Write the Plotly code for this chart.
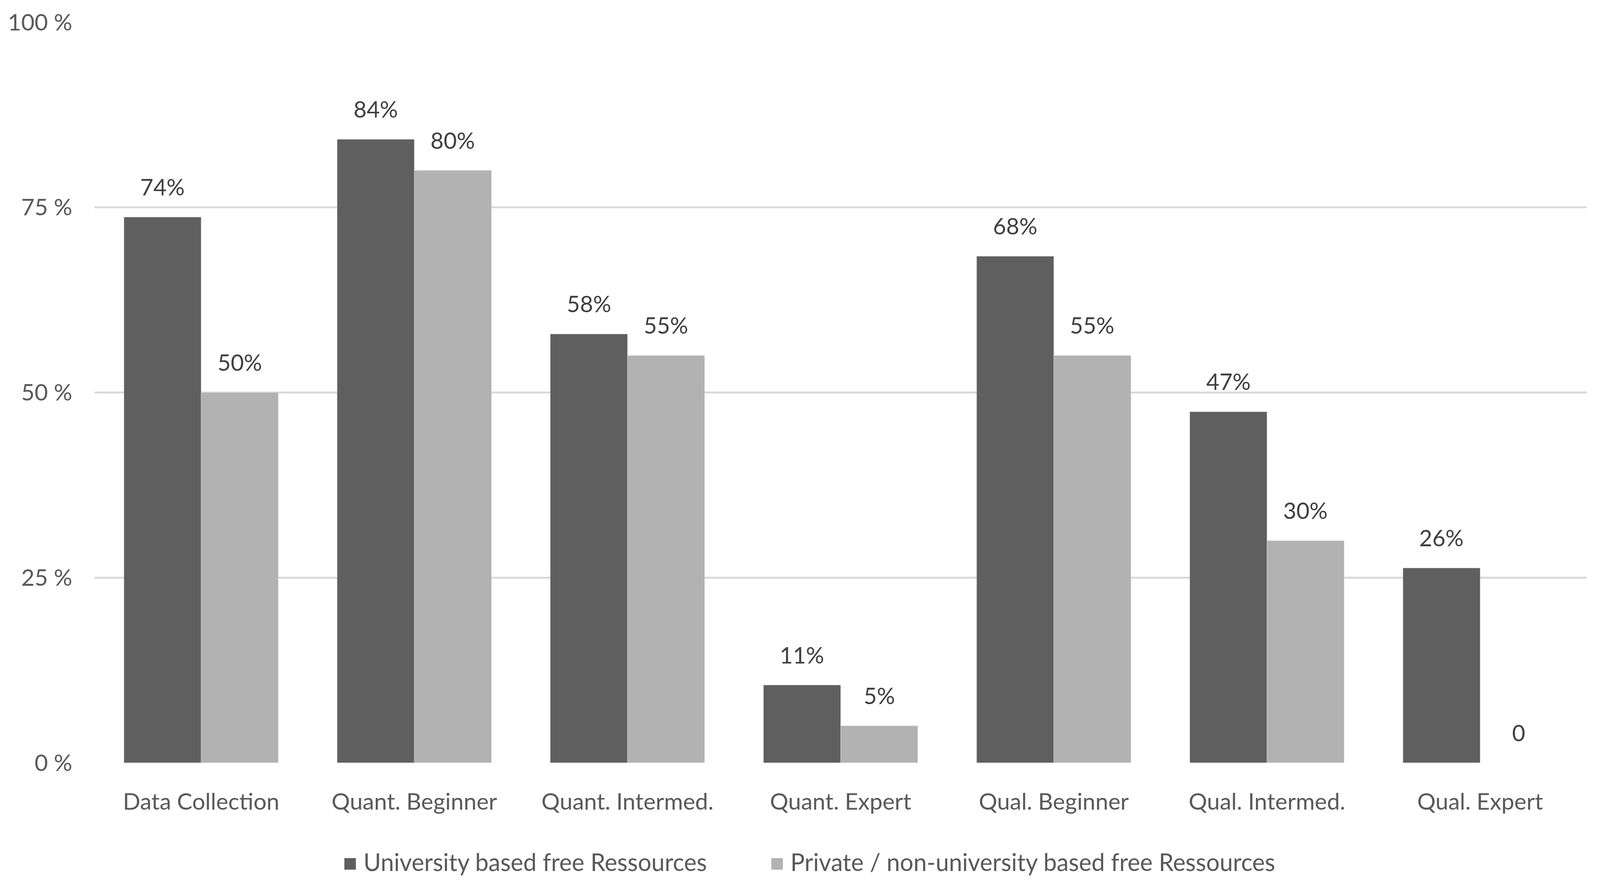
import plotly.graph_objects as go

# categories and the two resource series (shares in %)
categories = ["Data Collection", "Quant. Beginner", "Quant. Intermed.", "Quant. Expert",
              "Qual. Beginner", "Qual. Intermed.", "Qual. Expert"]
university = [73.7, 84.2, 57.9, 10.5, 68.4, 47.4, 26.3]
private = [50.0, 80.0, 55.0, 5.0, 55.0, 30.0, 0.0]
university_labels = ["74%", "84%", "58%", "11%", "68%", "47%", "26%"]
private_labels = ["50%", "80%", "55%", "5%", "55%", "30%", "0"]
series_names = ["University based free Ressources", "Private / non-university based free Ressources"]
series_colors = ["#5f5f5f", "#b2b2b2"]

y_ticks = [0, 25, 50, 75, 100]
y_tick_labels = ["0 %", "25 %", "50 %", "75 %", "100 %"]

BARGAP = 0.276
FONT = "Lato"
TEXT_GREY = "#595959"


def main():
    pos = list(range(len(categories)))
    fig = go.Figure()
    for name, color, values in zip(series_names, series_colors, [university, private]):
        fig.add_trace(go.Bar(x=pos, y=values, name=name, marker_color=color, showlegend=False))

    # value labels float well above the bars -> annotations at the bar centres
    half = (1 - BARGAP) / 4
    for values, labels, side in [(university, university_labels, -1), (private, private_labels, 1)]:
        for i, v, lab in zip(pos, values, labels):
            fig.add_annotation(x=i + side * half, y=v, text=lab, showarrow=False,
                               xref="x", yref="y", yshift=78, yanchor="middle",
                               font=dict(family=FONT, size=58, color="#404040"))

    # legend drawn as text with square glyphs (Excel style, large swatches)
    for name, color, xpos in zip(series_names, series_colors, [0.166, 0.452]):
        fig.add_annotation(x=xpos, y=-0.134, xref="paper", yref="paper", xanchor="left",
                           yanchor="middle", showarrow=False,
                           text=f"<span style='color:{color}'>■</span> {name}",
                           font=dict(family=FONT, size=61, color=TEXT_GREY))

    fig.update_layout(
        autosize=True,
        margin=dict(l=190, r=26, t=42, b=308),
        barmode="group", bargap=BARGAP, bargroupgap=0,
        plot_bgcolor="white", paper_bgcolor="white",
        font=dict(family=FONT, size=59, color=TEXT_GREY),
        showlegend=False,
    )
    fig.update_yaxes(range=[0, 100], tickvals=y_ticks, ticktext=y_tick_labels,
                     showgrid=True, gridcolor="#d9d9d9", gridwidth=5,
                     zeroline=False, showline=False, ticks="", ticklabelstandoff=56)
    fig.update_xaxes(range=[-0.5, len(categories) - 0.5], tickvals=pos, ticktext=categories,
                     showgrid=False, zeroline=False, showline=False, ticks="",
                     ticklabelstandoff=60)

    fig.write_html("out.html", default_width="100%", default_height="100vh")


if __name__ == "__main__":
    main()
